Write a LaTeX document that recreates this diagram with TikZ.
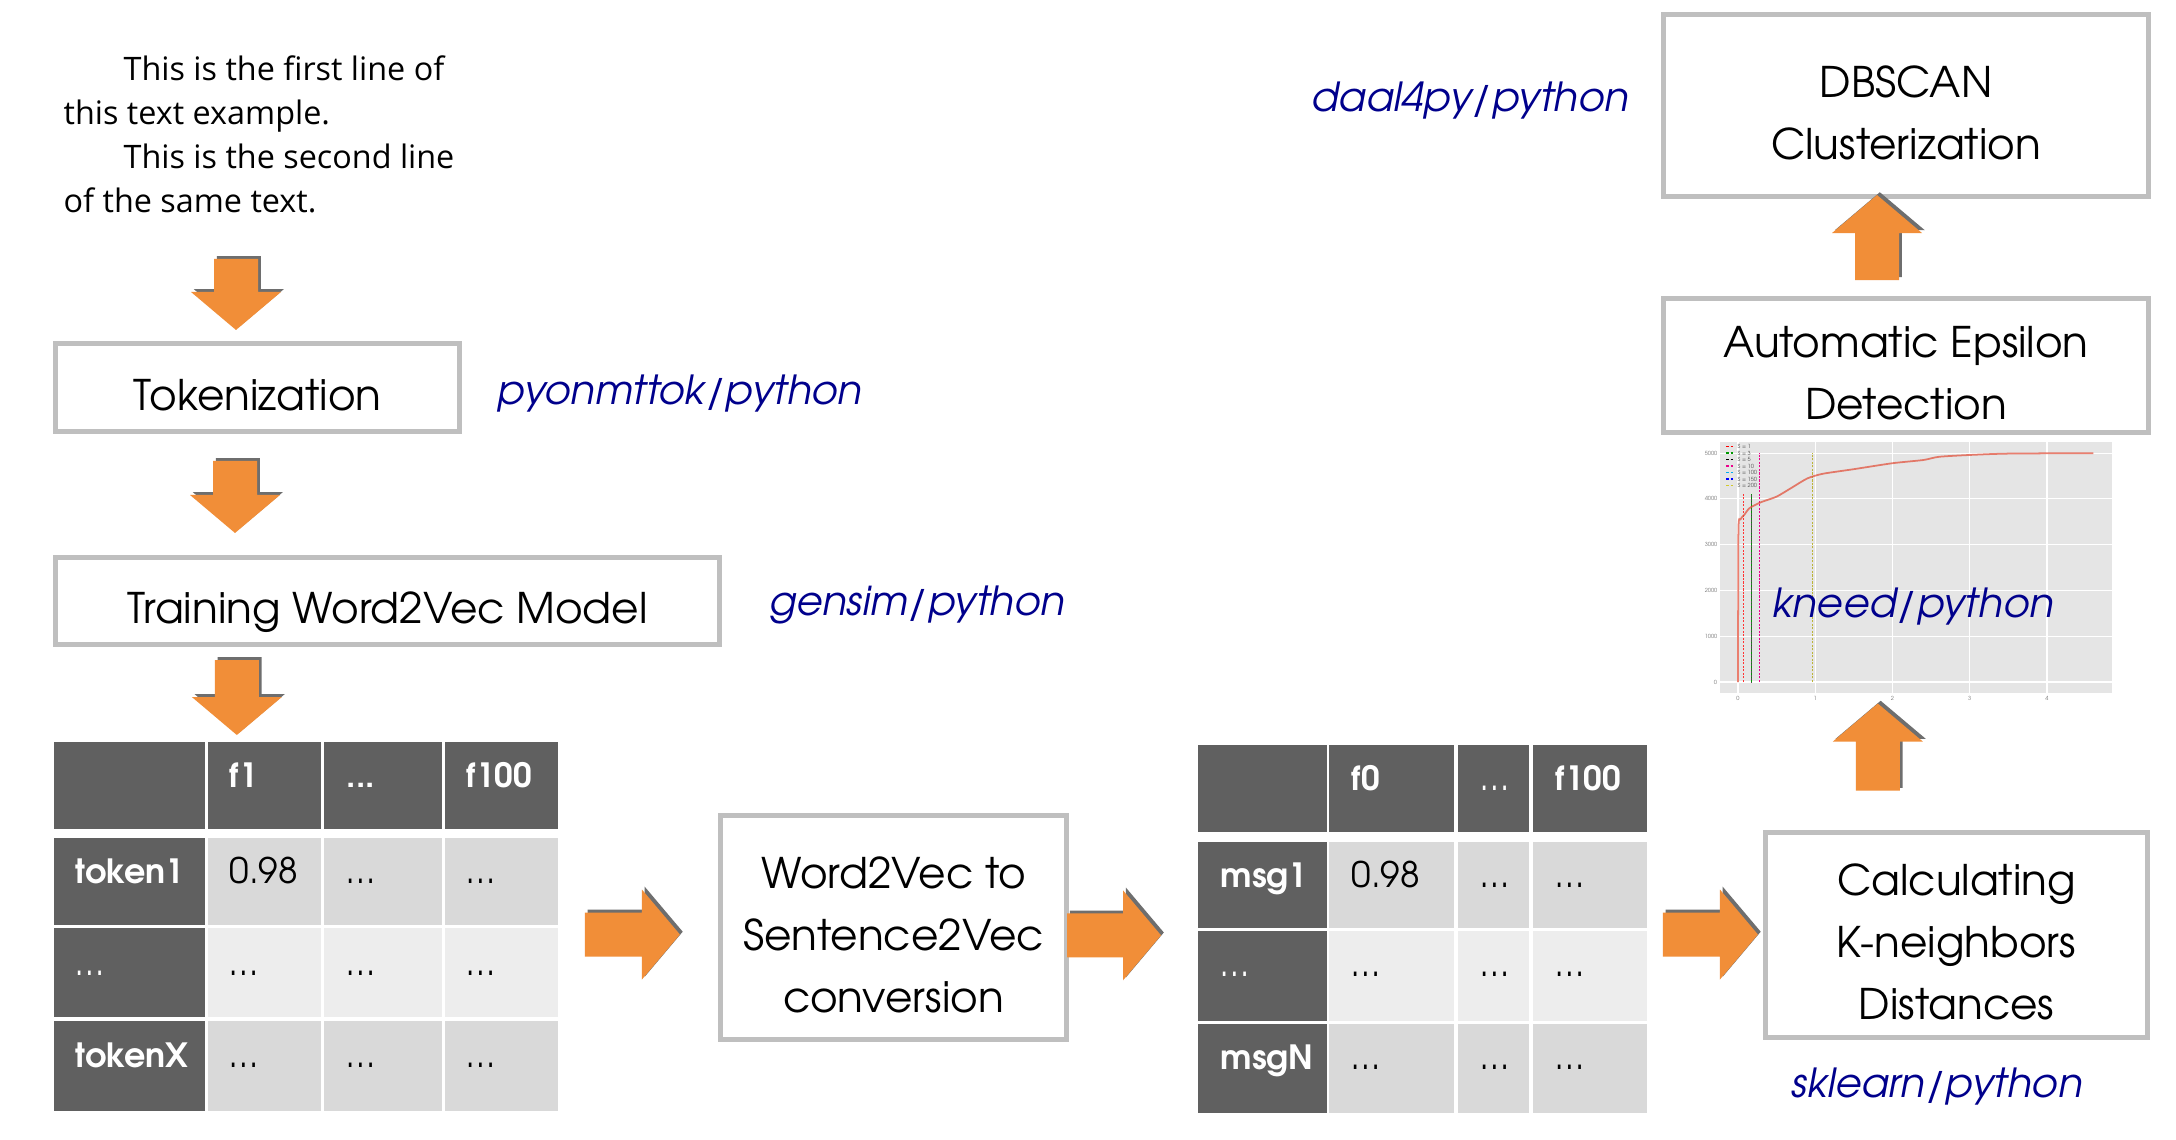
\documentclass[tikz,border=0pt]{standalone}
\usepackage{fontspec}
\setmainfont{TeX Gyre Adventor}
\newfontfamily\notefont{Open Sans}
\usetikzlibrary{calc}

\definecolor{boxgray}{RGB}{191,191,191}
\definecolor{arroworange}{RGB}{241,142,56}
\definecolor{arrowshadow}{RGB}{110,110,110}
\definecolor{libblue}{RGB}{0,0,140}
\definecolor{cellhead}{RGB}{96,96,96}
\definecolor{cellpale}{RGB}{217,217,217}
\definecolor{celllight}{RGB}{237,237,237}
\definecolor{panelgray}{RGB}{229,229,229}
\definecolor{curvered}{RGB}{226,74,51}

% extra room above the first line of a stage box
\newcommand{\liftline}{\rule{0pt}{15.5pt}}

\tikzset{
  stage/.style={draw=boxgray, line width=0.05cm, fill=white, align=center, inner sep=0pt,
    font=\fontsize{12}{17.6}\selectfont, execute at begin node={\rule[-2.5pt]{0pt}{18pt}}},
  libtag/.style={text=libblue, inner sep=0pt, font=\itshape\fontsize{11.4}{14}\selectfont},
  celltxt/.style={anchor=base west, inner sep=0pt, font=\fontsize{10}{12}\selectfont},
  keytxt/.style={celltxt, text=white, font=\bfseries\fontsize{9.5}{12}\selectfont},
  pics/blockarrow/.style={code={
    \fill[arrowshadow, transform canvas={xshift=0.8pt, yshift=0.8pt}]
      (0,0) -- (-38,-45) -- (-38,-22) -- (-#1,-22) -- (-#1,22) -- (-38,22) -- (-38,45) -- cycle;
    \fill[arroworange]
      (0,0) -- (-38,-45) -- (-38,-22) -- (-#1,-22) -- (-#1,22) -- (-38,22) -- (-38,45) -- cycle;
  }}
}

\begin{document}
\begin{tikzpicture}[x=0.01cm, y=-0.01cm]
	\useasboundingbox (0,0) rectangle (2176,1140);
	\fill[white] (0,0) rectangle (2176,1140);

	\node[anchor=north west, align=left, inner sep=0pt, font=\notefont\fontsize{9.2}{12.5}\selectfont] (intro) at (63,55)
		{\hspace*{0.6cm}This is the first line of\\this text example.\\\hspace*{0.6cm}This is the second line\\of the same text.};

	% stages
	\node[stage, minimum width=4.04cm, minimum height=0.88cm] (tok) at (257.5,387.5) {Tokenization};
	\node[stage, minimum width=6.64cm, minimum height=0.87cm] (train) at (387.5,601) {Training Word2Vec Model};
	\node[stage, minimum width=3.46cm, minimum height=2.24cm] (w2s) at (893.5,927.5) {\liftline Word2Vec to\\Sentence2Vec\\conversion};
	\node[stage, minimum width=3.82cm, minimum height=2.05cm] (knn) at (1956.5,935) {\liftline Calculating\\K-neighbors\\Distances};
	\node[stage, minimum width=4.85cm, minimum height=1.34cm] (eps) at (1906,365.5) {\liftline Automatic Epsilon\\Detection};
	\node[stage, minimum width=4.85cm, minimum height=1.82cm] (dbscan) at (1906,105.5) {\liftline DBSCAN\\Clusterization};

	% token table
	\node[minimum width=5.04cm, minimum height=3.69cm, anchor=north west, inner sep=0pt] (tokens) at (54,742) {};
	\foreach \y/\h/\f in {742/87/cellhead, 838/87/cellpale, 928/89/celllight, 1021/90/cellpale}{
		\fill[cellhead] (54,\y) rectangle ++(151,\h);
		\foreach \x/\w in {208/113, 324/118, 445/113}
			\fill[\f] (\x,\y) rectangle ++(\w,\h);
	}
	\node[keytxt] at (229,787) {f1};
	\node[keytxt] at (346,787) {...};
	\node[keytxt] at (466,787) {f100};
	\node[keytxt] at (75,883) {token1};
	\node[keytxt, font=\fontsize{10}{12}\selectfont] at (75,975) {\ldots};
	\node[keytxt] at (75,1067) {tokenX};
	\node[celltxt] at (229,883) {0.98};
	\foreach \x/\y in {346/883, 466/883, 229/975, 346/975, 466/975, 229/1067, 346/1067, 466/1067}
		\node[celltxt] at (\x,\y) {\ldots};

	% message table
	\node[minimum width=4.49cm, minimum height=3.68cm, anchor=north west, inner sep=0pt] (msgs) at (1198,745) {};
	\foreach \y/\h/\f in {745/87/cellhead, 842/86/cellpale, 931/90/celllight, 1024/89/cellpale}{
		\fill[cellhead] (1198,\y) rectangle ++(129,\h);
		\foreach \x/\w in {1329/125, 1458/71, 1533/114}
			\fill[\f] (\x,\y) rectangle ++(\w,\h);
	}
	\node[keytxt] at (1351,790) {f0};
	\node[keytxt, font=\fontsize{10}{12}\selectfont] at (1480,790) {\ldots};
	\node[keytxt] at (1555,790) {f100};
	\node[keytxt] at (1220,887) {msg1};
	\node[keytxt, font=\fontsize{10}{12}\selectfont] at (1220,976) {\ldots};
	\node[keytxt] at (1220,1069) {msgN};
	\node[celltxt] at (1351,887) {0.98};
	\foreach \x/\y in {1480/887, 1555/887, 1351/976, 1480/976, 1555/976, 1351/1069, 1480/1069, 1555/1069}
		\node[celltxt] at (\x,\y) {\ldots};

	% knee plot
	\node[minimum width=4.15cm, minimum height=2.63cm, anchor=north west, inner sep=0pt] (kneeplot) at (1700,437) {};
	\begin{scope}[shift={(1738,682)}, x=0.772cm, y=0.0004626cm]
		\fill[panelgray] (-0.233,-238) rectangle (4.845,5253);
		\foreach \t in {0,...,4}{
			\draw[white, line width=0.3pt] (\t,-238) -- (\t,5253);
			\node[anchor=north, inner sep=0pt, text=black!55, font=\fontsize{1.6}{2}\selectfont] at (\t,-300) {\t};
		}
		\foreach \t in {0,1000,...,5000}{
			\draw[white, line width=0.3pt] (-0.233,\t) -- (4.845,\t);
			\node[anchor=east, inner sep=0pt, text=black!55, font=\fontsize{1.6}{2}\selectfont] at (-0.26,\t) {\t};
		}
		\draw[red!80, line width=0.3pt, dash pattern=on 0.6pt off 0.4pt] (0.07,0) -- (0.07,4100);
		\draw[green!60!black, line width=0.3pt, dash pattern=on 0.6pt off 0.4pt] (0.17,0) -- (0.17,4100);
		\draw[black!70, line width=0.3pt, dash pattern=on 0.6pt off 0.4pt, dash phase=0.5pt] (0.17,0) -- (0.17,4100);
		\draw[magenta, line width=0.3pt, dash pattern=on 0.6pt off 0.4pt] (0.28,0) -- (0.28,5000);
		\draw[yellow!70!black, line width=0.3pt, dash pattern=on 0.6pt off 0.4pt] (0.96,0) -- (0.96,5000);
		\draw[curvered, opacity=0.7, line width=0.5pt] plot[smooth, tension=0.4] coordinates {
			(0,0) (0.005,3300) (0.03,3550) (0.08,3650) (0.15,3800) (0.3,3930) (0.5,4050) (0.7,4250)
			(0.9,4450) (1.1,4550) (1.5,4650) (2.0,4780) (2.4,4850) (2.6,4920) (3.0,4960) (3.5,4990) (4.6,5000)};
	\end{scope}
	\foreach \col/\s [count=\i] in {red/1, green!60!black/3, black/5, magenta/10, cyan/100, blue/150, yellow!80!black/200}{
		\draw[\col, line width=0.3pt, dash pattern=on 0.8pt off 0.5pt] (1726,{440+6.5*\i}) -- ++(9,0);
		\node[anchor=west, inner sep=0pt, text=black!70, font=\fontsize{1.6}{2}\selectfont] at (1737,{440+6.5*\i}) {S = \s};
	}

	% library tags
	\node[libtag] (tagtok) at (680,394) {pyonmttok/python};
	\node[libtag] (taggensim) at (917,605) {gensim/python};
	\node[libtag] (tagdaal) at (1470,101) {daal4py/python};
	\node[libtag] (tagsk) at (1937,1087) {sklearn/python};
	\node[libtag] (tagkneed) at (1913,607) {kneed/python};

	% block arrows
	\pic[rotate=-90] at ($(tok.north)+(-21.5,-11)$) {blockarrow=71};
	\pic[rotate=-90] at ($(train.north)+(-152.5,-22)$) {blockarrow=72};
	\pic[rotate=-90] at ($(tokens.north)+(-70,-7)$) {blockarrow=75};
	\pic at ($(w2s.west)+(-38,7)$) {blockarrow=95};
	\pic at ($(msgs.west)+(-37,5.5)$) {blockarrow=94};
	\pic at ($(knn.west)+(-5,-0.5)$) {blockarrow=95};
	\pic[rotate=90] at ($(kneeplot.south)+(-30.5,2)$) {blockarrow=87};
	\pic[rotate=90] at ($(dbscan.south)+(-29,-4)$) {blockarrow=85};
\end{tikzpicture}
\end{document}
